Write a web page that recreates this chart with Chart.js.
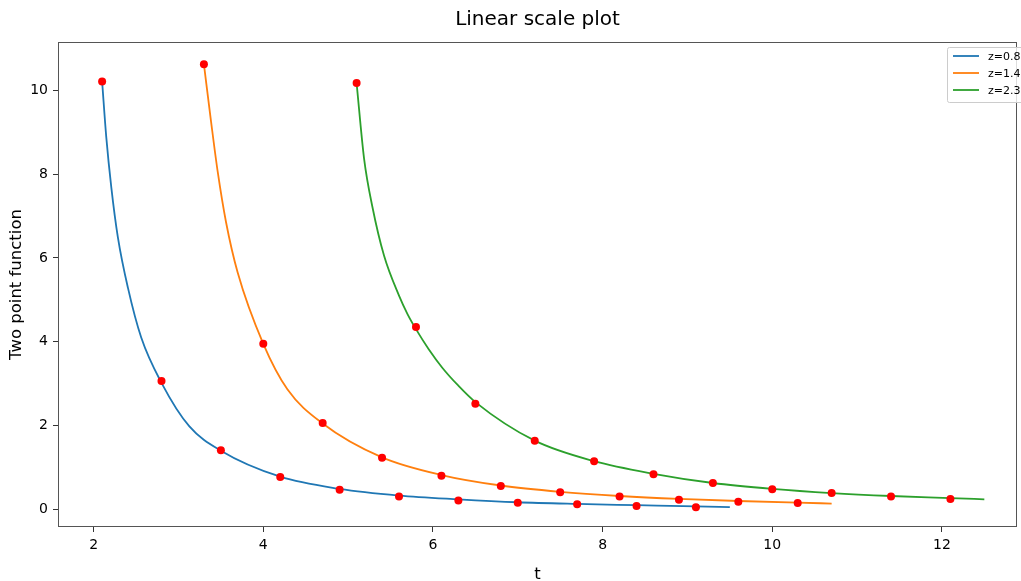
<!DOCTYPE html>
<html>
<head>
<meta charset="utf-8">
<script src="https://cdn.jsdelivr.net/npm/chart.js@4.4.0/dist/chart.umd.min.js"></script>
<style>
  html, body { margin: 0; padding: 0; background: #fff; }
  #wrap { width: 1021px; height: 581px; position: relative; }
</style>
</head>
<body>
<div id="wrap"><canvas id="line-chart" width="1021" height="581"></canvas></div>
<script>
// series labels + colours
var seriesLabels = ['z=0.8', 'z=1.4', 'z=2.3'];
var seriesColors = ['#1f77b4', '#ff7f0e', '#2ca02c'];

// fitted curves
var blueLineT = [2.1, 2.149, 2.208, 2.286, 2.404, 2.561, 2.8, 3.129, 3.5, 4.2, 4.9, 5.6, 6.3, 7.0, 7.7, 8.4, 9.1, 9.5];
var blueLineY = [10.21, 8.88, 7.69, 6.49, 5.29, 4.10, 3.02, 1.98, 1.40, 0.78, 0.49, 0.33, 0.24, 0.17, 0.13, 0.10, 0.07, 0.055];
var orangeLineT = [3.3, 3.385, 3.463, 3.561, 3.698, 4.0, 4.286, 4.7, 5.4, 6.1, 6.8, 7.5, 8.2, 8.9, 9.6, 10.3, 10.7];
var orangeLineY = [10.62, 9.24, 8.05, 6.85, 5.65, 3.95, 2.86, 2.05, 1.24, 0.82, 0.57, 0.42, 0.32, 0.25, 0.20, 0.16, 0.14];
var greenLineT = [5.1, 5.188, 5.286, 5.424, 5.6, 5.7, 5.8, 5.95, 6.11, 6.3, 6.5, 7.2, 7.9, 8.6, 9.3, 10.0, 10.7, 11.4, 12.1, 12.5];
var greenLineY = [10.17, 8.37, 7.22, 6.05, 5.10, 4.66, 4.30, 3.82, 3.38, 2.95, 2.56, 1.64, 1.15, 0.85, 0.63, 0.49, 0.39, 0.32, 0.27, 0.24];

// measured points (red dots)
var blueDotT = [2.1, 2.8, 3.5, 4.2, 4.9, 5.6, 6.3, 7.0, 7.7, 8.4, 9.1];
var blueDotY = [10.21, 3.06, 1.41, 0.77, 0.47, 0.31, 0.21, 0.16, 0.12, 0.08, 0.05];
var orangeDotT = [3.3, 4.0, 4.7, 5.4, 6.1, 6.8, 7.5, 8.2, 8.9, 9.6, 10.3];
var orangeDotY = [10.62, 3.95, 2.06, 1.23, 0.80, 0.56, 0.41, 0.31, 0.23, 0.18, 0.15];
var greenDotT = [5.1, 5.8, 6.5, 7.2, 7.9, 8.6, 9.3, 10.0, 10.7, 11.4, 12.1];
var greenDotY = [10.17, 4.35, 2.52, 1.64, 1.15, 0.84, 0.63, 0.48, 0.39, 0.31, 0.25];

// tick labels
var xTicks = [2, 4, 6, 8, 10, 12];
var yTicks = [0, 2, 4, 6, 8, 10];

function toPoints(ts, ys) {
    return ts.map(function (t, i) { return { x: t, y: ys[i] }; });
}

var lineSets = [[blueLineT, blueLineY], [orangeLineT, orangeLineY], [greenLineT, greenLineY]];
var dotSets = [[blueDotT, blueDotY], [orangeDotT, orangeDotY], [greenDotT, greenDotY]];

var datasets = [];
lineSets.forEach(function (s, i) {
    datasets.push({
        label: seriesLabels[i],
        data: toPoints(s[0], s[1]),
        showLine: true,
        borderColor: seriesColors[i],
        backgroundColor: seriesColors[i],
        borderWidth: 1.8,
        pointRadius: 0,
        cubicInterpolationMode: 'monotone',
        order: 2,
        isCurve: true
    });
});
dotSets.forEach(function (s) {
    datasets.push({
        label: '',
        data: toPoints(s[0], s[1]),
        showLine: false,
        pointRadius: 4,
        pointBackgroundColor: 'red',
        pointBorderColor: 'red',
        pointBorderWidth: 0,
        order: 1
    });
});

var FONT = "'DejaVu Sans', sans-serif";

// title, box, legend drawn by hand
var framePlugin = {
    id: 'frame',
    afterDraw: function (chart) {
        var ctx = chart.ctx, a = chart.chartArea;
        ctx.save();
        ctx.strokeStyle = '#555';
        ctx.lineWidth = 1;
        ctx.strokeRect(a.left + 0.5, a.top + 0.5, a.right - a.left - 1, a.bottom - a.top - 1);

        // title
        ctx.fillStyle = '#000';
        ctx.font = '20px ' + FONT;
        ctx.textAlign = 'center';
        ctx.textBaseline = 'middle';
        ctx.fillText('Linear scale plot', (a.left + a.right) / 2, 20);

        // legend
        var bx = 947, by = 47, bw = 90, bh = 55;
        ctx.fillStyle = 'rgba(255,255,255,0.8)';
        ctx.strokeStyle = '#ccc';
        ctx.beginPath();
        ctx.roundRect(bx + 0.5, by + 0.5, bw, bh, 2);
        ctx.fill();
        ctx.stroke();
        ctx.font = '11px ' + FONT;
        ctx.textAlign = 'left';
        var row = 0;
        chart.data.datasets.forEach(function (ds) {
            if (!ds.isCurve) return;
            var y = by + 9 + row * 17;
            ctx.strokeStyle = ds.borderColor;
            ctx.lineWidth = 1.8;
            ctx.beginPath();
            ctx.moveTo(bx + 6, y);
            ctx.lineTo(bx + 32, y);
            ctx.stroke();
            ctx.fillStyle = '#000';
            ctx.fillText(ds.label, bx + 41, y + 1);
            row++;
        });
        ctx.restore();
    }
};

var ctx = document.getElementById('line-chart').getContext('2d');
var chart = new Chart(ctx, {
    type: 'scatter',
    data: { datasets: datasets },
    options: {
        responsive: false,
        animation: false,
        devicePixelRatio: 1,
        layout: { padding: { top: 42, right: 2, left: 0, bottom: 0 } },
        plugins: {
            legend: { display: false },
            title: { display: false },
            tooltip: { enabled: false }
        },
        scales: {
            x: {
                type: 'linear',
                min: 1.58,
                max: 12.885,
                afterBuildTicks: function (scale) {
                    scale.ticks = xTicks.map(function (v) { return { value: v }; });
                },
                afterFit: function (scale) {
                    scale.height = 54;
                    scale.paddingLeft = 0;
                    scale.paddingRight = 0;
                },
                grid: { drawOnChartArea: false, drawTicks: true, tickLength: 5, color: '#333' },
                border: { display: false },
                ticks: { color: '#000', font: { family: FONT, size: 14 }, padding: 5, maxRotation: 0 },
                title: { display: true, text: 't', color: '#000', font: { family: FONT, size: 16.5 }, padding: { top: 0, bottom: -4 } }
            },
            y: {
                type: 'linear',
                min: -0.42,
                max: 11.15,
                afterBuildTicks: function (scale) {
                    scale.ticks = yTicks.map(function (v) { return { value: v }; });
                },
                afterFit: function (scale) {
                    scale.width = 58;
                    scale.paddingTop = 0;
                    scale.paddingBottom = 0;
                },
                grid: { drawOnChartArea: false, drawTicks: true, tickLength: 5, color: '#333' },
                border: { display: false },
                ticks: { color: '#000', font: { family: FONT, size: 14 }, padding: 5 },
                title: { display: true, text: 'Two point function', color: '#000', font: { family: FONT, size: 16.5 }, padding: { top: 7, bottom: 0 } }
            }
        }
    },
    plugins: [framePlugin]
});
</script>
</body>
</html>
